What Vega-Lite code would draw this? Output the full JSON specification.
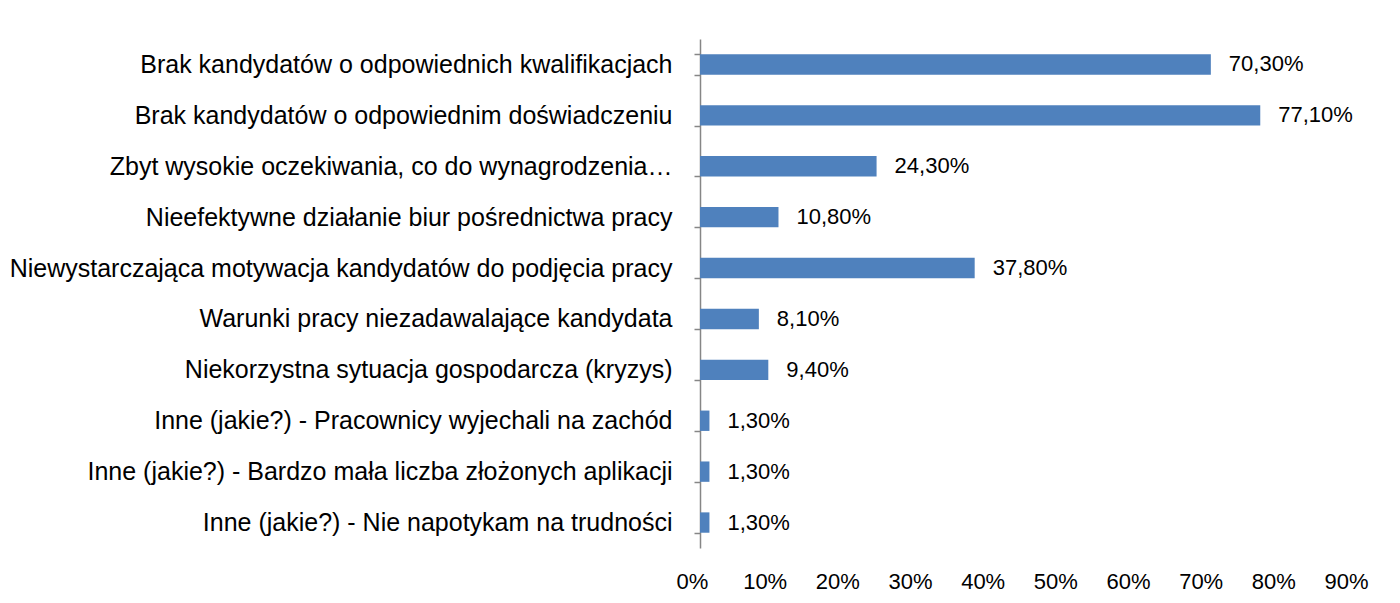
{
  "$schema": "https://vega.github.io/schema/vega-lite/v6.json",
  "autosize": {"type": "none"},
  "width": 654,
  "height": 509,
  "padding": {"left": 700, "top": 39, "right": 46, "bottom": 55},
  "background": "white",
  "config": {
    "view": {"stroke": null},
    "font": "Liberation Sans",
    "locale": {"number": {"decimal": ",", "thousands": " ", "grouping": [3], "currency": ["", " zł"]}}
  },
  "data": {
    "values": [
      {"category": "Brak kandydatów o odpowiednich kwalifikacjach", "value": 0.703},
      {"category": "Brak kandydatów o odpowiednim doświadczeniu", "value": 0.771},
      {"category": "Zbyt wysokie oczekiwania, co do wynagrodzenia…", "value": 0.243},
      {"category": "Nieefektywne działanie biur pośrednictwa pracy", "value": 0.108},
      {"category": "Niewystarczająca motywacja kandydatów do podjęcia pracy", "value": 0.378},
      {"category": "Warunki pracy niezadawalające kandydata", "value": 0.081},
      {"category": "Niekorzystna sytuacja gospodarcza (kryzys)", "value": 0.094},
      {"category": "Inne (jakie?) - Pracownicy wyjechali na zachód", "value": 0.013},
      {"category": "Inne (jakie?) - Bardzo mała liczba złożonych aplikacji", "value": 0.013},
      {"category": "Inne (jakie?) - Nie napotykam na trudności", "value": 0.013}
    ]
  },
  "encoding": {
    "y": {
      "field": "category",
      "type": "nominal",
      "sort": null,
      "scale": {"paddingInner": 0.6, "paddingOuter": 0.3},
      "axis": {
        "title": null,
        "domainColor": "#868686",
        "domainWidth": 1.5,
        "tickColor": "#868686",
        "tickWidth": 1.5,
        "tickSize": 6,
        "tickBand": "extent",
        "labelFontSize": 25,
        "labelColor": "#000000",
        "labelLimit": 0,
        "labelPadding": 22
      }
    },
    "x": {
      "field": "value",
      "type": "quantitative",
      "scale": {"domain": [0, 0.9], "nice": false},
      "axis": {
        "title": null,
        "format": ".0%",
        "values": [0, 0.1, 0.2, 0.3, 0.4, 0.5, 0.6, 0.7, 0.8, 0.9],
        "domain": false,
        "ticks": false,
        "grid": false,
        "labelFontSize": 22,
        "labelColor": "#000000",
        "labelPadding": 23,
        "labelOffset": -8,
        "labelFlush": false
      }
    }
  },
  "layer": [
    {"mark": {"type": "bar", "color": "#4F81BD"}},
    {
      "mark": {"type": "text", "align": "left", "baseline": "middle", "dx": 18, "fontSize": 22, "color": "#000000"},
      "encoding": {"text": {"field": "value", "type": "quantitative", "format": ".2%"}}
    }
  ]
}
